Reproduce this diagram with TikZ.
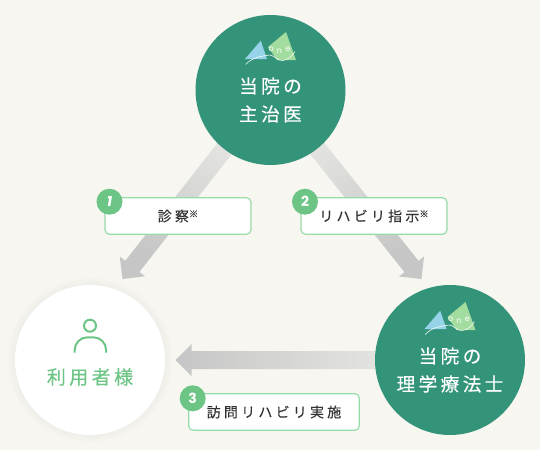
\documentclass[tikz,border=0pt]{standalone}
\usepackage{fontspec}
\newfontfamily\jpwide[LetterSpace=18,FakeBold=0.25]{Noto Sans CJK JP}
\newfontfamily\jplabel[LetterSpace=23,FakeBold=0.15]{Noto Sans CJK JP}
\newfontfamily\jpplain[FakeBold=0.2]{Noto Sans CJK JP}
\newfontfamily\badgefont{Poppins}
\usepackage{xcolor}
\definecolor{clinicbg}{HTML}{F7F6F1}
\definecolor{clinicteal}{HTML}{33947A}
\definecolor{clinicgreen}{HTML}{6CC585}
\definecolor{clinicline}{HTML}{97DBA8}
\definecolor{clinicblue}{HTML}{96D3E8}
\definecolor{clinicleaf}{HTML}{A3DC9F}
\definecolor{clinictext}{HTML}{333333}
\definecolor{arrowdark}{HTML}{C6C6C6}
\definecolor{arrowlight}{HTML}{EDEDE9}
\usetikzlibrary{arrows.meta,positioning,calc}
% arrow outline: from, tip, shading options
\newcommand{\flowarrow}[3]{%
  \coordinate (neck) at ($(#2)!12pt!(#1)$);
  \shade[#3] ($(#1)!6.75pt!-90:(#2)$) -- ($(neck)!6.75pt!-90:(#2)$) -- ($(neck)!12pt!-90:(#2)$) -- (#2)
    -- ($(neck)!12pt!90:(#2)$) -- ($(neck)!6.75pt!90:(#2)$) -- ($(#1)!6.75pt!90:(#2)$) -- cycle;}
\begin{document}
\begin{tikzpicture}[x=0.75pt,y=-0.75pt,
  staffcircle/.style={circle,fill=clinicteal,minimum size=112.5pt,inner sep=0pt},
  stafftext/.style={align=center,text=white,font=\fontsize{14}{21}\selectfont\jpwide},
  stepbox/.style={draw=clinicline,fill=white,line width=0.9pt,rounded corners=3.5pt,
    minimum height=27.5pt,inner sep=0pt,text=clinictext,font=\fontsize{10.5}{12}\selectfont\jplabel},
  stepbadge/.style={circle,fill=clinicgreen,minimum size=19.5pt,inner sep=0pt,text=white,
    font=\fontsize{10.5}{12}\selectfont\badgefont\bfseries},
  logo/.pic={
    \fill[clinicblue] (-9.8,-49.3) -- (-25.5,-31) -- (-3.5,-31) -- cycle;
    \fill[clinicleaf] (15.5,-58) -- (25.5,-30) -- (6.5,-30) -- (-2.5,-43) -- cycle;
    \draw[white,line width=0.4pt] (-24.8,-25.5) .. controls (-18,-33) and (-8,-34) .. (-0.5,-35)
      .. controls (3,-35) and (7,-29) .. (12,-29.5) .. controls (17,-30) and (21,-33) .. (24.5,-38.5);
    \node[text=white,inner sep=0pt,font=\fontsize{6}{7}\selectfont\badgefont] (oneword) at (9,-39.5)
      {o\kern2.4pt\raisebox{-1.5pt}{n}\kern2.6pt e};
  }
]
  % Canvas
  \fill[clinicbg] (0,0) rectangle (540,450);
  \useasboundingbox (0,0) rectangle (540,450);
  % Free ends of the arrows
  \coordinate (doctorstart) at (270.5,90);
  \coordinate (therapiststart) at (450,360);
  \coordinate (usertip) at (122.5,279);
  \coordinate (therapisttip) at (421.5,279);
  \coordinate (bottomtip) at (175.5,360);
  % Gradient arrows
  \flowarrow{doctorstart}{usertip}{left color=arrowdark,right color=arrowlight,shading angle=141}
  \flowarrow{doctorstart}{therapisttip}{left color=arrowlight,right color=arrowdark,shading angle=39}
  \flowarrow{therapiststart}{bottomtip}{left color=arrowdark,right color=arrowlight}
  % Soft shadow of the user circle
  \foreach \grow in {1,2,...,8}
    \fill[black,opacity=0.005] (90,360) circle (75+\grow);
  % Circles
  \node[staffcircle] (doctor) at (270.5,90) {};
  \node[staffcircle] (therapist) at (450,360) {};
  \node[circle,fill=white,minimum size=112.5pt,inner sep=0pt] (user) at (90,360) {};
  \pic at (doctor) {logo};
  \pic at (therapist) {logo};
  \node[stafftext] (doctortext) at (270.5,100) {当院の\\主治医};
  \node[stafftext] (therapisttext) at (450,370) {当院の\\理学療法士};
  % User icon and name
  \draw[clinicgreen,line width=1.5pt] (90,325.7) circle (6);
  \draw[clinicgreen,line width=1.5pt] (74.7,352.7) -- (74.7,350) arc[start angle=180,end angle=270,radius=12.7]
    -- (93.4,337.3) arc[start angle=270,end angle=360,radius=12.7] -- (106.1,352.7);
  \node[text=clinicgreen,inner sep=0pt,font=\fontsize{14.25}{16}\selectfont\jpwide] (usertext) at (90,377) {利用者様};
  % Step labels
  \node[stepbox,minimum width=109.5pt] (step1) at (178,216) {診察\raisebox{3pt}{\fontsize{7}{7}\selectfont\jpplain ※}};
  \node[stepbox,minimum width=109.5pt] (step2) at (374,216) {リハビリ指示\raisebox{3pt}{\fontsize{7}{7}\selectfont\jpplain ※}};
  \node[stepbox,minimum width=128pt] (step3) at (274,412) {訪問リハビリ実施};
  \node[stepbadge] (badge1) at (109.5,201.7) {\itshape 1};
  \node[stepbadge] (badge2) at (305,201.7) {2};
  \node[stepbadge] (badge3) at (192.7,398.3) {3};
\end{tikzpicture}
\end{document}
